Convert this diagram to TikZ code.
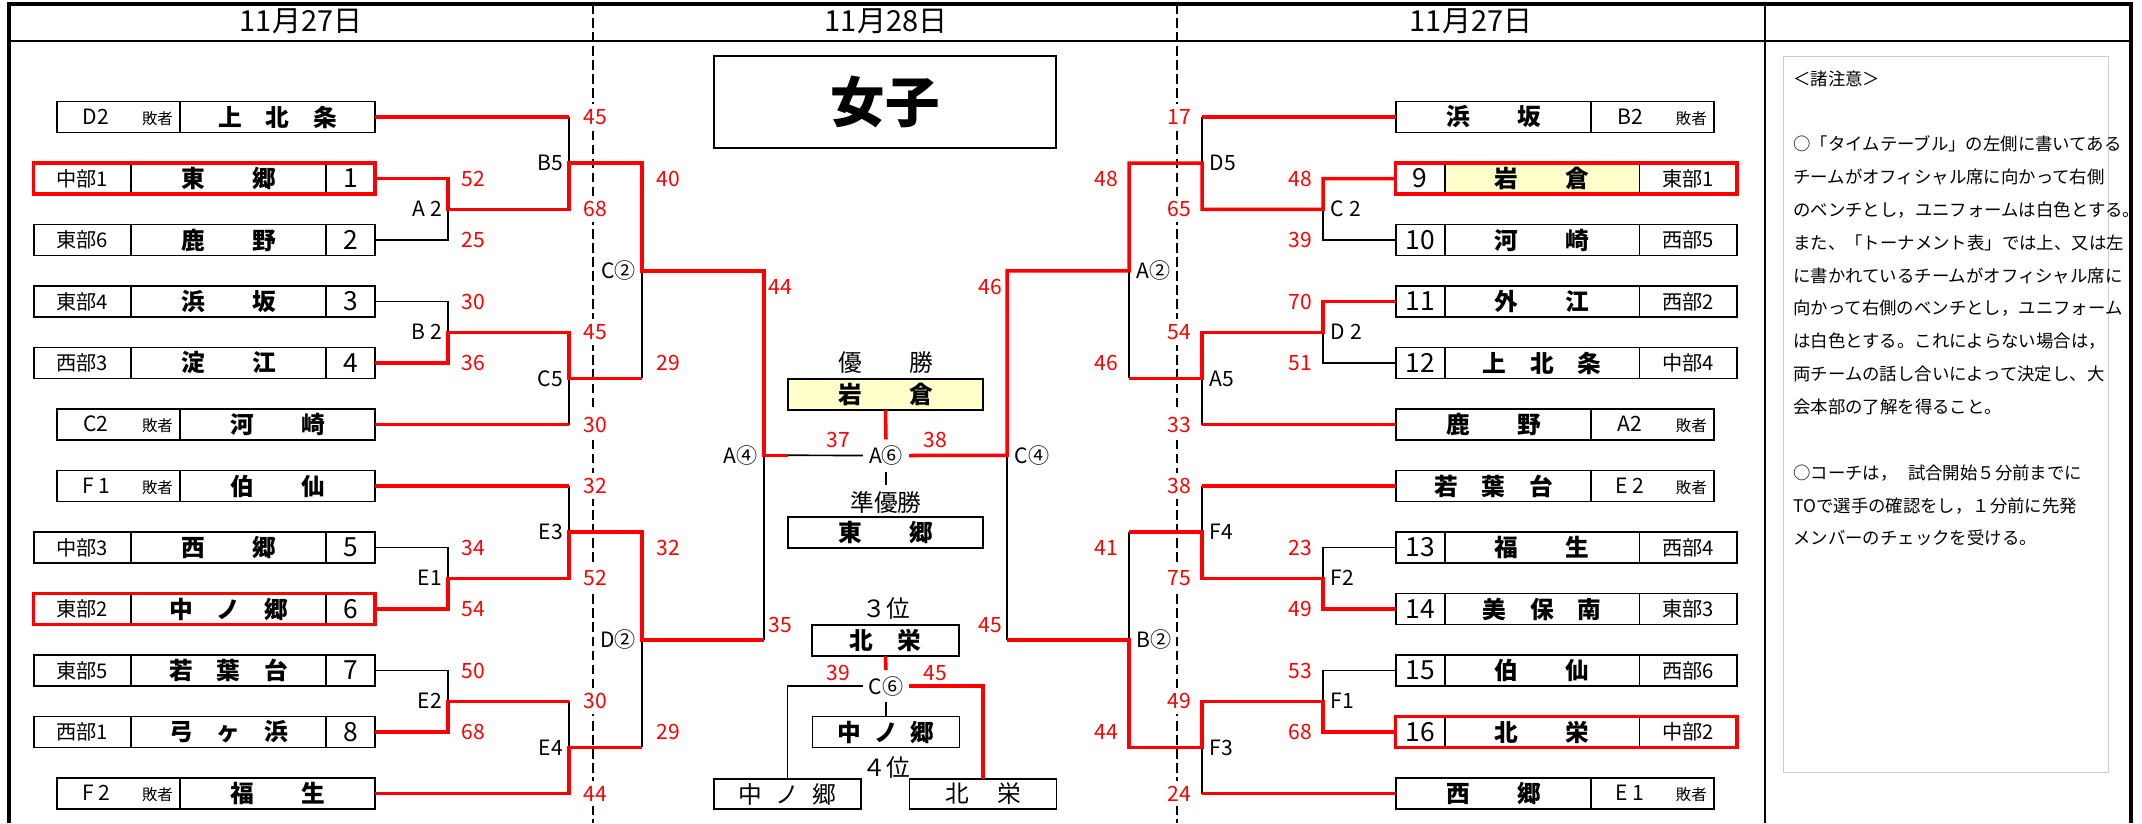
\documentclass[tikz,border=0pt]{standalone}
\usepackage{fontspec}
\setmainfont{Noto Sans CJK JP}
\usepackage{tikz}
\usetikzlibrary{positioning}

\definecolor{champfill}{RGB}{255,255,204}

\newcommand{\losertag}[1]{\makebox[2.46cm][l]{\hspace{.28cm}\makebox[1cm]{#1}\hspace{.42cm}{\fontsize{8.8}{9}\selectfont 敗者}}}

\tikzset{
  win/.style={red, line width=2pt},
  lose/.style={black, line width=.95pt},
  teamcell/.style={draw, line width=1.1pt, outer sep=0pt, inner sep=0pt, minimum height=.62cm, fill=white},
  namecell/.style={teamcell, minimum width=3.9cm, font=\bfseries\fontsize{13.5}{14}\selectfont},
  regcell/.style={teamcell, minimum width=1.95cm, font=\fontsize{11.5}{12}\selectfont},
  seedcell/.style={teamcell, minimum width=.98cm, font=\fontsize{15}{16}\selectfont},
  tagcell/.style={teamcell, minimum width=2.46cm, font=\fontsize{12}{13}\selectfont},
  redbox/.style={draw=red, line width=1.8pt},
  matchlbl/.style={font=\fontsize{12}{13}\selectfont},
  score/.style={red, font=\fontsize{12}{13}\selectfont},
  scoredash/.style={score, fill=white, inner sep=3pt},
  dayline/.style={line width=1.1pt, dash pattern=on 5.5pt off 2.5pt},
  daytxt/.style={font=\fontsize{16.5}{17}\selectfont},
  rank/.style={font=\fontsize{13.5}{14}\selectfont},
}

\begin{document}
\begin{tikzpicture}[x=0.02cm, y=-0.02cm]
\useasboundingbox (0,0) rectangle (2142,823);

\draw[dayline] (593,4) -- (593,823);
\draw[dayline] (1177,4) -- (1177,823);
\draw[line width=2pt] (9,823) -- (9,4) -- (2131,4) -- (2131,823);
\draw[line width=1.1pt] (9,41) -- (2131,41);
\draw[line width=1.1pt] (1765,4) -- (1765,823);

\node[daytxt] (day1) at (301,21) {11月27日};
\node[daytxt] (day2) at (886,21) {11月28日};
\node[daytxt] (day3) at (1471,21) {11月27日};

\node[draw, line width=.9pt, minimum width=6.84cm, minimum height=1.84cm, font=\bfseries\fontsize{31}{31}\selectfont] (title) at (885,102) {女子};

\node[namecell] (l1) at (277.5,117) {上　北　条};
\node[tagcell, left=0pt of l1] (lr1) {\losertag{D2}};

\node[namecell] (ln2) at (228.5,178.5) {東　　郷};
\node[regcell, left=0pt of ln2] (lr2) {中部1};
\node[seedcell, right=0pt of ln2] (l2) {1};

\node[namecell] (ln3) at (228.5,240) {鹿　　野};
\node[regcell, left=0pt of ln3] (lr3) {東部6};
\node[seedcell, right=0pt of ln3] (l3) {2};

\node[namecell] (ln4) at (228.5,301.5) {浜　　坂};
\node[regcell, left=0pt of ln4] (lr4) {東部4};
\node[seedcell, right=0pt of ln4] (l4) {3};

\node[namecell] (ln5) at (228.5,363) {淀　　江};
\node[regcell, left=0pt of ln5] (lr5) {西部3};
\node[seedcell, right=0pt of ln5] (l5) {4};

\node[namecell] (l6) at (277.5,424.5) {河　　崎};
\node[tagcell, left=0pt of l6] (lr6) {\losertag{C2}};

\node[namecell] (l7) at (277.5,486) {伯　　仙};
\node[tagcell, left=0pt of l7] (lr7) {\losertag{F 1}};

\node[namecell] (ln8) at (228.5,547.5) {西　　郷};
\node[regcell, left=0pt of ln8] (lr8) {中部3};
\node[seedcell, right=0pt of ln8] (l8) {5};

\node[namecell] (ln9) at (228.5,609) {中　ノ　郷};
\node[regcell, left=0pt of ln9] (lr9) {東部2};
\node[seedcell, right=0pt of ln9] (l9) {6};

\node[namecell] (ln10) at (228.5,670.5) {若　葉　台};
\node[regcell, left=0pt of ln10] (lr10) {東部5};
\node[seedcell, right=0pt of ln10] (l10) {7};

\node[namecell] (ln11) at (228.5,732) {弓　ヶ　浜};
\node[regcell, left=0pt of ln11] (lr11) {西部1};
\node[seedcell, right=0pt of ln11] (l11) {8};

\node[namecell] (l12) at (277.5,793.5) {福　　生};
\node[tagcell, left=0pt of l12] (lr12) {\losertag{F 2}};

\node[namecell] (r1) at (1493.5,117) {浜　　坂};
\node[tagcell, right=0pt of r1] (rr1) {\losertag{B2}};

\node[namecell, fill=champfill] (rn2) at (1542,178.5) {岩　　倉};
\node[seedcell, left=0pt of rn2] (r2) {9};
\node[regcell, right=0pt of rn2] (rr2) {東部1};

\node[namecell] (rn3) at (1542,240) {河　　崎};
\node[seedcell, left=0pt of rn3] (r3) {10};
\node[regcell, right=0pt of rn3] (rr3) {西部5};

\node[namecell] (rn4) at (1542,301.5) {外　　江};
\node[seedcell, left=0pt of rn4] (r4) {11};
\node[regcell, right=0pt of rn4] (rr4) {西部2};

\node[namecell] (rn5) at (1542,363) {上　北　条};
\node[seedcell, left=0pt of rn5] (r5) {12};
\node[regcell, right=0pt of rn5] (rr5) {中部4};

\node[namecell] (r6) at (1493.5,424.5) {鹿　　野};
\node[tagcell, right=0pt of r6] (rr6) {\losertag{A2}};

\node[namecell] (r7) at (1493.5,486) {若　葉　台};
\node[tagcell, right=0pt of r7] (rr7) {\losertag{E 2}};

\node[namecell] (rn8) at (1542,547.5) {福　　生};
\node[seedcell, left=0pt of rn8] (r8) {13};
\node[regcell, right=0pt of rn8] (rr8) {西部4};

\node[namecell] (rn9) at (1542,609) {美　保　南};
\node[seedcell, left=0pt of rn9] (r9) {14};
\node[regcell, right=0pt of rn9] (rr9) {東部3};

\node[namecell] (rn10) at (1542,670.5) {伯　　仙};
\node[seedcell, left=0pt of rn10] (r10) {15};
\node[regcell, right=0pt of rn10] (rr10) {西部6};

\node[namecell] (rn11) at (1542,732) {北　　栄};
\node[seedcell, left=0pt of rn11] (r11) {16};
\node[regcell, right=0pt of rn11] (rr11) {中部2};

\node[namecell] (r12) at (1493.5,793.5) {西　　郷};
\node[tagcell, right=0pt of r12] (rr12) {\losertag{E 1}};

\draw[redbox] (lr2.north west) rectangle (l2.south east);
\draw[redbox] (lr9.north west) rectangle (l9.south east);
\draw[redbox] (r2.north west) rectangle (rr2.south east);
\draw[redbox] (r11.north west) rectangle (rr11.south east);

\node[rank] (wintxt) at (886,363) {優　　勝};
\node[namecell, fill=champfill] (champ) at (885.5,394.5) {岩　　倉};
\node[matchlbl] (Avi) at (886,455.5) {A⑥};
\node[rank] (rutxt) at (886,502) {準優勝};
\node[namecell] (runner) at (885.5,532.5) {東　　郷};
\node[rank] (thirdtxt) at (886,608) {３位};
\node[namecell, minimum width=2.94cm] (third) at (885.5,640.5) {北　栄};
\node[matchlbl] (Cvi) at (886,686) {C⑥};
\node[namecell, minimum width=2.94cm] (fourth) at (886,732) {中\hspace{.55em}ノ\hspace{.55em}郷};
\node[rank] (fourthtxt) at (886,767) {４位};
\node[teamcell, minimum width=2.94cm, minimum height=.6cm, font=\fontsize{13.5}{14}\selectfont] (semiL) at (787.5,794) {中\hspace{.55em}ノ\hspace{.55em}郷};
\node[teamcell, minimum width=2.94cm, minimum height=.6cm, font=\fontsize{13.5}{14}\selectfont] (semiR) at (983,794) {北\hspace{1.2em}栄};

\coordinate (A2) at (448,209.25);
\coordinate (B2) at (448,332.25);
\coordinate (E1) at (448,578.25);
\coordinate (E2) at (448,701.25);
\coordinate (B5) at (569,163.1);
\coordinate (C5) at (569,378.4);
\coordinate (E3) at (569,532.1);
\coordinate (E4) at (569,747.4);
\coordinate (Cii) at (642,270.75);
\coordinate (Dii) at (642,639.75);
\coordinate (Aiv) at (764,455.25);

\coordinate (C2) at (1323,209.25);
\coordinate (D2) at (1323,332.25);
\coordinate (F2) at (1323,578.25);
\coordinate (F1) at (1323,701.25);
\coordinate (D5) at (1202,163.1);
\coordinate (A5) at (1202,378.4);
\coordinate (F4) at (1202,532.1);
\coordinate (F3) at (1202,747.4);
\coordinate (Aii) at (1129,270.75);
\coordinate (Bii) at (1129,639.75);
\coordinate (Civ) at (1007,455.25);

\draw[lose] (l3.east) -| (A2);
\draw[lose] (l4.east) -| (B2);
\draw[lose] (l8.east) -| (E1);
\draw[lose] (l10.east) -| (E2);
\draw[lose] (l1.east -| B5) -- (B5);
\draw[lose] (l6.east -| C5) -- (C5);
\draw[lose] (l7.east -| E3) -- (E3);
\draw[lose] (E2 -| E4) -- (E4);
\draw[lose] (C5 -| Cii) -- (Cii);
\draw[lose] (E4 -| Dii) -- (Dii);
\draw[lose] (Dii -| Aiv) -- (Aiv);
\draw[lose] (Aiv -| champ.west) -- (Avi.west);

\draw[lose] (r3.west) -| (C2);
\draw[lose] (r5.west) -| (D2);
\draw[lose] (r8.west) -| (F2);
\draw[lose] (r10.west) -| (F1);
\draw[lose] (r1.west -| D5) -- (D5);
\draw[lose] (r6.west -| A5) -- (A5);
\draw[lose] (r7.west -| F4) -- (F4);
\draw[lose] (r12.west -| F3) -- (F3);
\draw[lose] (A5 -| Aii) -- (Aii);
\draw[lose] (F4 -| Bii) -- (Bii);
\draw[lose] (Bii -| Civ) -- (Civ);

\draw[lose] (Avi.south) -- (rutxt.north);
\draw[lose] (Cvi.south) -- (fourth.north);
\draw[lose] (Cvi.west) -| (semiL.north);

\draw[win] (l2.east) -| (A2) -| (B5) -| (Cii) -| (Aiv) -- (Aiv -| champ.west);
\draw[win] (l5.east) -| (B2) -| (C5) -- (C5 -| Cii);
\draw[win] (l9.east) -| (E1) -| (E3) -| (Dii) -- (Dii -| Aiv);
\draw[win] (l11.east) -| (E2) -- (E2 -| E4);
\draw[win] (l12.east) -| (E4) -- (E4 -| Dii);
\draw[win] (l1.east) -- (l1.east -| B5);
\draw[win] (l6.east) -- (l6.east -| C5);
\draw[win] (l7.east) -- (l7.east -| E3);

\draw[win] (r2.west) -| (C2) -| (D5) -| (Aii) -| (Civ) -- (Avi.east);
\draw[win] (r4.west) -| (D2) -| (A5) -- (A5 -| Aii);
\draw[win] (r9.west) -| (F2) -| (F4) -- (F4 -| Bii);
\draw[win] (r11.west) -| (F1) -| (F3) -| (Bii) -- (Bii -| Civ);
\draw[win] (r1.west) -- (r1.west -| D5);
\draw[win] (r6.west) -- (r6.west -| A5);
\draw[win] (r7.west) -- (r7.west -| F4);
\draw[win] (r12.west) -- (r12.west -| F3);

\draw[win] (champ.south) -- (Avi.north);
\draw[win] (third.south) -- (Cvi.north);
\draw[win] (Cvi.east) -| (semiR.north);

\node[matchlbl, left] (A2l) at (A2) {A 2};
\node[matchlbl, left] (B2l) at (B2) {B 2};
\node[matchlbl, left] (E1l) at (E1) {E1};
\node[matchlbl, left] (E2l) at (E2) {E2};
\node[matchlbl, left] (B5l) at (B5) {B5};
\node[matchlbl, left] (C5l) at (C5) {C5};
\node[matchlbl, left] (E3l) at (E3) {E3};
\node[matchlbl, left] (E4l) at (E4) {E4};
\node[matchlbl, left] (Ciil) at (Cii) {C②};
\node[matchlbl, left] (Diil) at (Dii) {D②};
\node[matchlbl, left] (Aivl) at (Aiv) {A④};

\node[matchlbl, right=1pt] (C2l) at (C2) {C 2};
\node[matchlbl, right=1pt] (D2l) at (D2) {D 2};
\node[matchlbl, right=1pt] (F2l) at (F2) {F2};
\node[matchlbl, right=1pt] (F1l) at (F1) {F1};
\node[matchlbl, right=1pt] (D5l) at (D5) {D5};
\node[matchlbl, right=1pt] (A5l) at (A5) {A5};
\node[matchlbl, right=1pt] (F4l) at (F4) {F4};
\node[matchlbl, right=1pt] (F3l) at (F3) {F3};
\node[matchlbl, right=1pt] (Aiil) at (Aii) {A②};
\node[matchlbl, right=1pt] (Biil) at (Bii) {B②};
\node[matchlbl, right=1pt] (Civl) at (Civ) {C④};

\node[score] (A2u) at (473,178.5) {52};
\node[score] (A2d) at (473,240) {25};
\node[score] (B2u) at (473,301.5) {30};
\node[score] (B2d) at (473,363) {36};
\node[score] (E1u) at (473,547.5) {34};
\node[score] (E1d) at (473,609) {54};
\node[score] (E2u) at (473,670.5) {50};
\node[score] (E2d) at (473,732) {68};

\node[scoredash] (B5u) at (595,117) {45};
\node[scoredash] (B5d) at (595,209.25) {68};
\node[scoredash] (C5u) at (595,332.25) {45};
\node[scoredash] (C5d) at (595,424.5) {30};
\node[scoredash] (E3u) at (595,486) {32};
\node[scoredash] (E3d) at (595,578.25) {52};
\node[scoredash] (E4u) at (595,701.25) {30};
\node[scoredash] (E4d) at (595,793.5) {44};

\node[score] (Ciiu) at (668,178.5) {40};
\node[score] (Ciid) at (668,363) {29};
\node[score] (Diiu) at (668,547.5) {32};
\node[score] (Diid) at (668,732) {29};
\node[score] (Aivu) at (780,287) {44};
\node[score] (Aivd) at (780,625) {35};

\node[score] (Avil) at (838,440) {37};
\node[score] (Avir) at (935,440) {38};
\node[score] (Cvil) at (838,673) {39};
\node[score] (Cvir) at (935,673) {45};

\node[score] (C2u) at (1300,178.5) {48};
\node[score] (C2d) at (1300,240) {39};
\node[score] (D2u) at (1300,301.5) {70};
\node[score] (D2d) at (1300,363) {51};
\node[score] (F2u) at (1300,547.5) {23};
\node[score] (F2d) at (1300,609) {49};
\node[score] (F1u) at (1300,670.5) {53};
\node[score] (F1d) at (1300,732) {68};

\node[scoredash] (D5u) at (1179,117) {17};
\node[scoredash] (D5d) at (1179,209.25) {65};
\node[scoredash] (A5u) at (1179,332.25) {54};
\node[scoredash] (A5d) at (1179,424.5) {33};
\node[scoredash] (F4u) at (1179,486) {38};
\node[scoredash] (F4d) at (1179,578.25) {75};
\node[scoredash] (F3u) at (1179,701.25) {49};
\node[scoredash] (F3d) at (1179,793.5) {24};

\node[score] (Aiiu) at (1106,178.5) {48};
\node[score] (Aiid) at (1106,363) {46};
\node[score] (Biiu) at (1106,547.5) {41};
\node[score] (Biid) at (1106,732) {44};
\node[score] (Civu) at (990,287) {46};
\node[score] (Civd) at (990,625) {45};

\node[draw=black!20, line width=.6pt, minimum width=6.5cm, minimum height=14.32cm, anchor=north west, inner sep=0pt] (notebox) at (1783,56) {};
\node[anchor=north west, inner sep=0pt, align=left, font=\fontsize{9.9}{18.7}\selectfont] (notes) at (1793,70) {＜諸注意＞\\[18.7pt]
○「タイムテーブル」の左側に書いてある\\
チームがオフィシャル席に向かって右側\\
のベンチとし，ユニフォームは白色とする。\\
また、「トーナメント表」では上、又は左\\
に書かれているチームがオフィシャル席に\\
向かって右側のベンチとし，ユニフォーム\\
は白色とする。これによらない場合は，\\
両チームの話し合いによって決定し、大\\
会本部の了解を得ること。\\[18.7pt]
○コーチは，\hspace{.6em}試合開始５分前までに\\
TOで選手の確認をし，１分前に先発\\
メンバーのチェックを受ける。};

\end{tikzpicture}
\end{document}
